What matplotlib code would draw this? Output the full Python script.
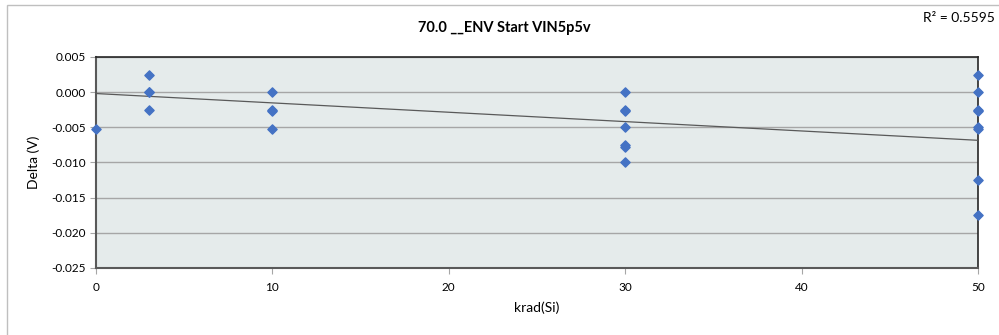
#!/usr/bin/env python3

import numpy as np
import matplotlib.pyplot as plt
from matplotlib.patches import Rectangle

plt.rcParams['font.family'] = ['Lato', 'DejaVu Sans']

# krad(Si) dose for each reading and the measured delta (V)
dose = [0,
        3, 3, 3, 3,
        10, 10, 10, 10,
        30, 30, 30, 30, 30, 30, 30,
        50, 50, 50, 50, 50, 50, 50, 50]
delta = [-0.0053,
         0.0025, 0.0, 0.0, -0.0025,
         0.0, -0.0025, -0.0027, -0.0053,
         0.0, -0.0025, -0.0027, -0.005, -0.0075, -0.0078, -0.010,
         0.0025, 0.0, -0.0025, -0.0027, -0.005, -0.0053, -0.0125, -0.0175]

# linear trendline as shown in the chart
trend_slope = -0.000133
trend_intercept = -0.0002
r_squared = 0.5595

title = '70.0 __ENV Start VIN5p5v'
xticks = [0, 10, 20, 30, 40, 50]
yticks = [-0.025, -0.020, -0.015, -0.010, -0.005, 0.000, 0.005]

fig = plt.figure(figsize=(9.99, 3.35), dpi=100)
ax = fig.add_axes([0.0961, 0.2, 0.979 - 0.0961, 0.63])

# outer chart border (only left/top visible in the frame)
fig.patches.append(Rectangle((6.5 / 999, -0.1), 1.2, 1.1 - 5.5 / 335,
                             transform=fig.transFigure, fill=False,
                             edgecolor='#BFBFBF', linewidth=1.0))

ax.set_facecolor('#E5EBEB')
ax.set_xlim(0, 50)
ax.set_ylim(-0.025, 0.005)
ax.set_xticks(xticks)
ax.set_yticks(yticks)
ax.set_yticklabels(['%.3f' % v for v in yticks])
ax.grid(axis='y', color='#A6A6A6', linewidth=1.0)
ax.set_axisbelow(True)

for side in ['left', 'bottom']:
    ax.spines[side].set_color('#595959')
    ax.spines[side].set_linewidth(1.5)
for side in ['top', 'right']:
    ax.spines[side].set_color('#262626')
    ax.spines[side].set_linewidth(1.2)

ax.tick_params(axis='both', labelsize=8.5, color='#A6A6A6', length=4, width=0.8)
ax.tick_params(axis='x', pad=6)

xs = np.array([0, 50])
ax.plot(xs, trend_intercept + trend_slope * xs, color='#595959', linewidth=0.9, zorder=3)
ax.scatter(dose, delta, marker='D', s=22, color='#4472C4', edgecolor='#4472C4',
           zorder=4, clip_on=False)

ax.set_xlabel('krad(Si)', fontsize=10, labelpad=6)
ax.set_ylabel('Delta (V)', fontsize=10, labelpad=8)
fig.text(504 / 999, 1 - 28 / 335, title, ha='center', va='center',
         fontsize=10.5, fontweight='bold')
fig.text(995 / 999, 1 - 18 / 335, 'R\u00b2 = %.4f' % r_squared, ha='right',
         va='center', fontsize=10)

fig.savefig('out.png', dpi=100)
